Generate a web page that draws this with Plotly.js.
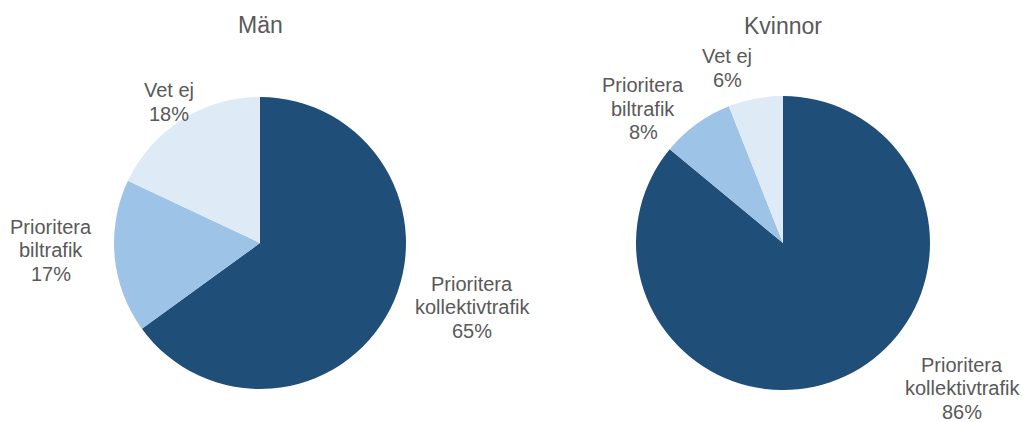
<!DOCTYPE html>
<html>
<head>
<meta charset="utf-8">
<script src="https://cdn.plot.ly/plotly-3.0.1.min.js"></script>
<style>
  html, body { margin: 0; padding: 0; background: #ffffff; }
  #chart { width: 1022px; height: 422px; }
</style>
</head>
<body>
<div id="chart"></div>
<script>
// ---- Data ----
const categories = ["Prioritera kollektivtrafik", "Prioritera biltrafik", "Vet ej"];
const categoryLines = [["Prioritera", "kollektivtrafik"], ["Prioritera", "biltrafik"], ["Vet ej"]];
const panelTitles = ["Män", "Kvinnor"];
const valuesMen = [65, 17, 18];
const valuesWomen = [86, 8, 6];

// ---- Styling / layout (not data) ----
const sliceColors = ["#1F4E79", "#9DC3E6", "#DEEBF7"];
const textColor = "#595959";
const fontFamily = "Liberation Sans, Arial, sans-serif";
const W = 1022, H = 422;
const labelFontSize = 20;
const lineSpacing = 23.5;
// pixel centres of label blocks, per panel, per category
const labelAnchors = [
  [[472, 307], [51, 250], [169, 102]],
  [[962, 388], [643, 109], [727, 68]]
];
const pieGeom = [
  {cx: 260, cy: 243, r: 146},
  {cx: 783, cy: 243, r: 147}
];
const titleAnchors = [[260, 25], [783, 26]];

function domainFor(g) {
  return {
    x: [(g.cx - g.r) / W, (g.cx + g.r) / W],
    y: [(H - g.cy - g.r) / H, (H - g.cy + g.r) / H]
  };
}

const series = [valuesMen, valuesWomen];
const traces = series.map((vals, i) => ({
  type: "pie",
  labels: categories,
  values: vals,
  sort: false,
  direction: "clockwise",
  rotation: 0,
  textinfo: "none",
  hoverinfo: "label+percent",
  marker: { colors: sliceColors, line: { width: 0 } },
  domain: domainFor(pieGeom[i]),
  showlegend: false
}));

const annotations = [];
series.forEach((vals, p) => {
  const total = vals.reduce((a, b) => a + b, 0);
  vals.forEach((v, c) => {
    const lines = categoryLines[c].concat([Math.round(100 * v / total) + "%"]);
    const [ax, ay] = labelAnchors[p][c];
    lines.forEach((ln, k) => {
      const y = ay + (k - (lines.length - 1) / 2) * lineSpacing;
      annotations.push({
        text: ln, xref: "paper", yref: "paper",
        x: ax / W, y: 1 - y / H, xanchor: "center", yanchor: "middle",
        showarrow: false,
        font: { family: fontFamily, size: labelFontSize, color: textColor }
      });
    });
  });
});
panelTitles.forEach((t, p) => {
  const [tx, ty] = titleAnchors[p];
  annotations.push({
    text: t, xref: "paper", yref: "paper",
    x: tx / W, y: 1 - ty / H, xanchor: "center", yanchor: "middle",
    showarrow: false,
    font: { family: fontFamily, size: 23, color: textColor }
  });
});

const layout = {
  width: W, height: H,
  margin: { l: 0, r: 0, t: 0, b: 0 },
  paper_bgcolor: "#ffffff",
  plot_bgcolor: "#ffffff",
  font: { family: fontFamily, color: textColor },
  annotations: annotations
};

Plotly.newPlot("chart", traces, layout, { displayModeBar: false, staticPlot: true });
</script>
</body>
</html>
